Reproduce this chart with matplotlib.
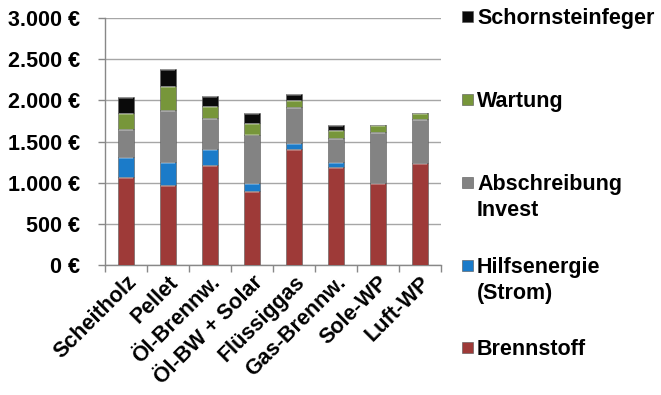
import matplotlib
matplotlib.use("Agg")
import matplotlib.pyplot as plt
from matplotlib.patches import Rectangle
import numpy as np

plt.rcParams['font.family'] = ['Liberation Sans', 'DejaVu Sans']
plt.rcParams['font.weight'] = 'bold'

categories = ["Scheitholz", "Pellet", "Öl-Brennw.", "Öl-BW + Solar",
              "Flüssiggas", "Gas-Brennw.", "Sole-WP", "Luft-WP"]
brennstoff = [1065, 975, 1210, 900, 1405, 1195, 990, 1240]
hilfsenergie = [250, 276, 200, 100, 75, 60, 0, 0]
abschreibung = [340, 632, 380, 585, 435, 290, 625, 530]
wartung = [195, 291, 145, 145, 90, 95, 80, 80]
schornsteinfeger = [195, 203, 115, 120, 75, 65, 0, 0]

series_names = ["Brennstoff", "Hilfsenergie\n(Strom)", "Abschreibung\nInvest",
                "Wartung", "Schornsteinfeger"]
series_values = [brennstoff, hilfsenergie, abschreibung, wartung, schornsteinfeger]
series_colors = ["#9E3A38", "#1B7BC9", "#838383", "#77963A", "#0A0A0A"]

yticks = [0, 500, 1000, 1500, 2000, 2500, 3000]
ytick_labels = ["0 €", "500 €", "1.000 €", "1.500 €", "2.000 €", "2.500 €", "3.000 €"]

FS = 15.5
W, H = 661, 395
fig = plt.figure(figsize=(W / 100, H / 100), dpi=100)
ax = fig.add_axes([105 / W, 1 - 265 / H, 336 / W, 247 / H])

x = np.arange(len(categories))
bottom = np.zeros(len(categories))
for vals, col in zip(series_values, series_colors):
    vals = np.array(vals, dtype=float)
    ax.bar(x, vals, bottom=bottom, width=0.4, color=col,
           edgecolor="#5a5a5a", linewidth=0.4, zorder=3)
    # light bevel line along the top of each segment
    mask = vals > 0
    ax.hlines(bottom[mask] + vals[mask] - 12, x[mask] - 0.17, x[mask] + 0.17,
              colors="white", alpha=0.35, linewidth=1.2, zorder=4)
    bottom += vals

ax.set_xlim(-0.5, len(categories) - 0.5)
ax.set_ylim(0, 3000)
ax.set_yticks(yticks)
ax.set_yticklabels(ytick_labels, fontsize=FS, fontweight='bold')
ax.yaxis.grid(True, color="#A6A6A6", linewidth=1.0, zorder=0)
ax.set_axisbelow(True)

ax.set_xticks(x)
ax.set_xticklabels(categories, rotation=45, ha='right', rotation_mode='anchor',
                   fontsize=FS, fontweight='bold')
ax.tick_params(axis='x', length=0, pad=5)
ax.set_xticks(np.arange(len(categories) + 1) - 0.5, minor=True)
ax.tick_params(axis='x', which='minor', length=5, color="#888888", width=1)
ax.tick_params(axis='y', length=5, color="#888888", width=1, pad=13)

for s in ["top", "right"]:
    ax.spines[s].set_visible(False)
for s in ["left", "bottom"]:
    ax.spines[s].set_color("#888888")
    ax.spines[s].set_linewidth(1)

# legend on the right, one entry at a time (baseline of first line in pixels)
legend_order = [4, 3, 2, 1, 0]
legend_baselines = [24, 107, 190, 273, 355]
for idx, base in zip(legend_order, legend_baselines):
    lines = series_names[idx].split("\n")
    fig.patches.append(Rectangle((462 / W, 1 - (base - 2) / H), 11 / W, 11 / H,
                                 transform=fig.transFigure,
                                 facecolor=series_colors[idx],
                                 edgecolor="#555555", linewidth=0.4))
    for k, line in enumerate(lines):
        fig.text(477 / W, 1 - (base + 26 * k) / H, line, fontsize=FS,
                 fontweight='bold', va='baseline', ha='left')

fig.savefig("out.png", dpi=100)
